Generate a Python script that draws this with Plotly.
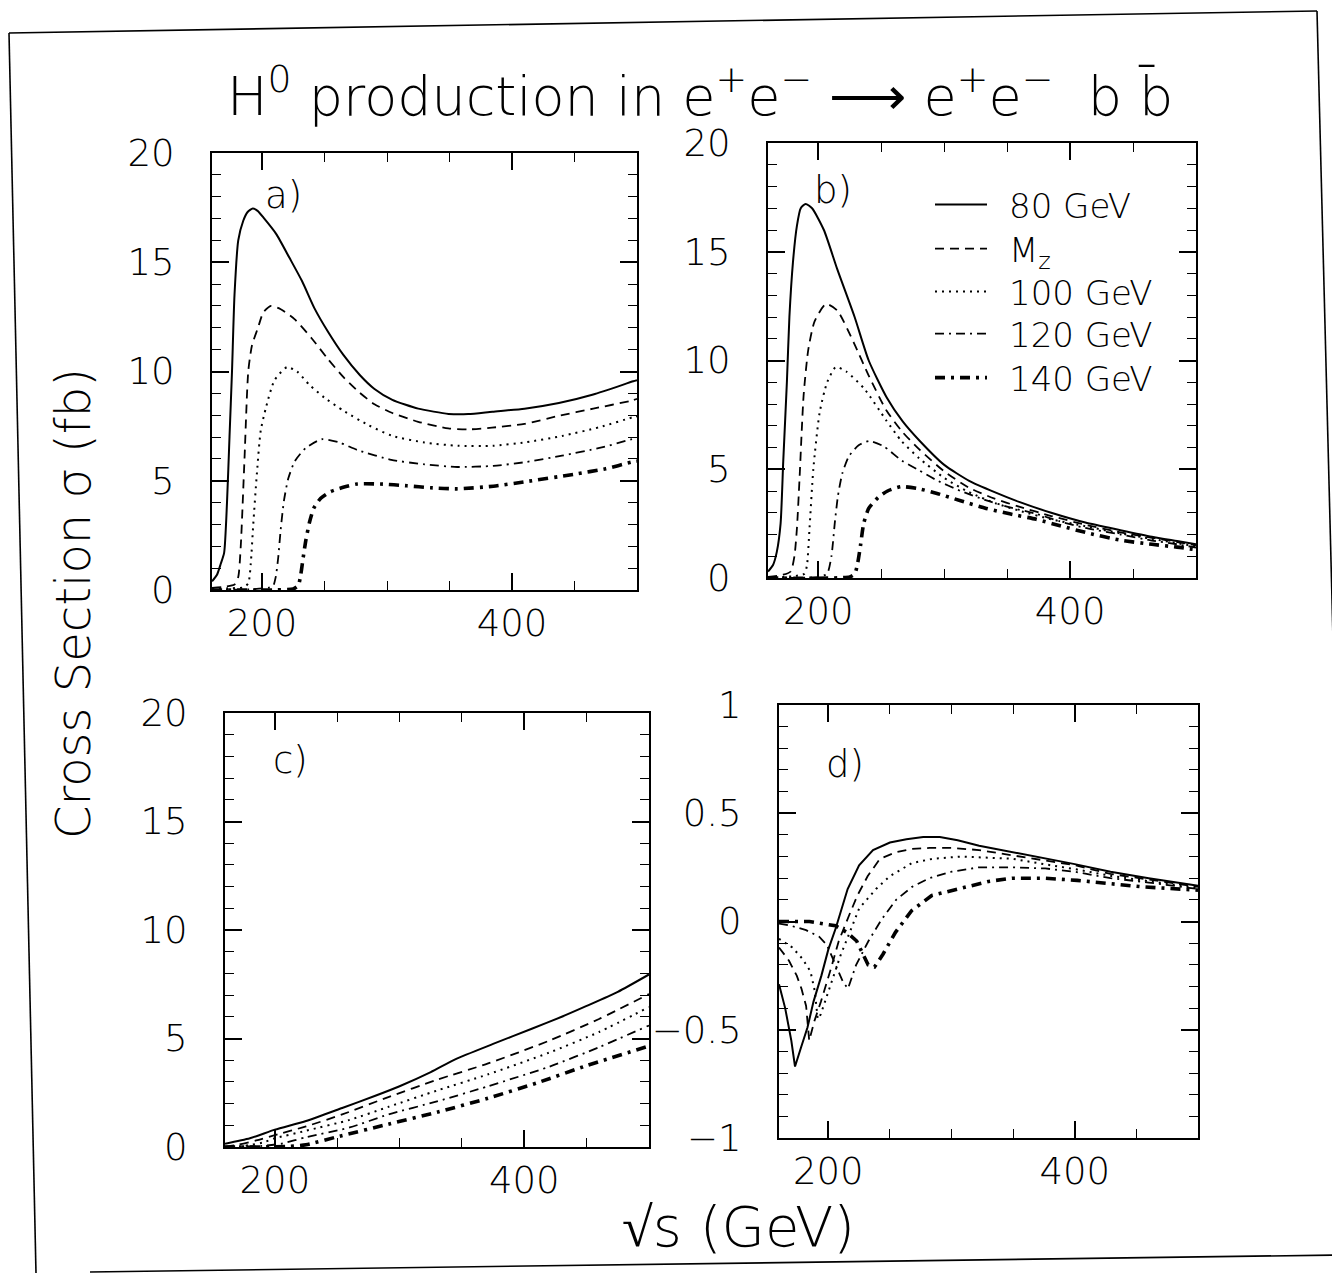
import plotly.graph_objects as go

W, H = 1340, 1273

SERIES = ["80 GeV", "M<sub>z</sub>", "100 GeV", "120 GeV", "140 GeV"]

# ---------------- panel a ----------------
A_X80 = [160, 164, 167, 169.7, 172, 174, 176, 178, 181, 185, 188.5, 192.6, 196.5, 201.2, 211.3, 222.1, 232.1, 242, 252.8, 265.1, 278.4, 290, 304.3, 325, 349.3, 365, 384.3, 410, 437.5, 465, 497, 500]
A_Y80 = [0.4, 0.7, 1.2, 1.7, 4.0, 7.0, 10.0, 13.5, 16.0, 16.9, 17.3, 17.46, 17.35, 17.04, 16.3, 15.19, 14.13, 12.89, 11.82, 10.76, 9.83, 9.2, 8.7, 8.3, 8.06, 8.05, 8.16, 8.3, 8.56, 8.95, 9.55, 9.6]
A_XMZ = [160, 170, 178, 181, 183, 186, 189, 192, 196.8, 201, 207.2, 215, 226, 240, 252.3, 265, 277.7, 290, 304.3, 325, 349, 365, 384, 410, 437.3, 465, 496.6, 500]
A_YMZ = [0.1, 0.15, 0.25, 0.6, 2.0, 6.0, 10.0, 11.2, 12.0, 12.7, 13.0, 12.85, 12.4, 11.5, 10.6, 9.75, 9.05, 8.5, 8.1, 7.7, 7.4, 7.35, 7.43, 7.6, 7.97, 8.3, 8.68, 8.75]
A_X100 = [160, 175, 185, 189, 191, 193, 196, 199, 203.4, 210, 220, 228, 237.8, 250, 265.3, 285, 303.9, 330, 356.7, 385, 410.8, 440, 470, 496.3, 500]
A_Y100 = [0.05, 0.08, 0.12, 0.3, 1.2, 3.0, 5.4, 7.3, 8.4, 9.6, 10.2, 10.0, 9.4, 8.8, 8.2, 7.55, 7.06, 6.75, 6.6, 6.6, 6.76, 7.05, 7.45, 7.9, 7.95]
A_X120 = [160, 190, 205, 209, 211, 213, 215, 217.6, 221, 226.3, 235, 247.8, 262, 276.6, 303.4, 330, 356.3, 385, 410.4, 440, 470, 495.9, 500]
A_Y120 = [0.0, 0.03, 0.1, 0.2, 0.6, 1.5, 2.8, 4.1, 5.1, 5.9, 6.5, 6.9, 6.75, 6.4, 5.96, 5.75, 5.63, 5.68, 5.85, 6.15, 6.5, 6.9, 6.95]
A_X140 = [160, 210, 225, 229, 231, 233, 235, 238, 241.5, 247, 254.8, 265, 276, 295, 316, 335, 356, 385, 410, 450, 475, 495.5, 500]
A_Y140 = [0.0, 0.0, 0.05, 0.2, 0.7, 1.5, 2.25, 3.1, 3.75, 4.2, 4.5, 4.7, 4.85, 4.85, 4.77, 4.68, 4.63, 4.75, 4.95, 5.3, 5.55, 5.85, 5.9]

# ---------------- panel b ----------------
B_X80 = [160, 164, 167, 170, 172.1, 175, 177, 179.8, 183, 186, 189.9, 195, 204.4, 215, 228.8, 240, 254.3, 267, 280.6, 300, 319.8, 340, 359.5, 385, 412.1, 440, 464.9, 485, 500]
B_Y80 = [0.3, 0.6, 1.2, 2.5, 5.35, 9.0, 12.0, 14.5, 16.2, 17.0, 17.2, 17.0, 16.0, 14.2, 12.0, 10.0, 8.3, 7.2, 6.3, 5.2, 4.47, 3.95, 3.5, 3.0, 2.55, 2.2, 1.9, 1.7, 1.55]
B_XMZ = [160, 172, 178, 181, 183, 185, 188.3, 192, 197, 206, 215, 228.3, 240, 254.1, 267, 280.4, 300, 319.7, 340, 359.4, 385, 412, 440, 465, 485, 500]
B_YMZ = [0.05, 0.15, 0.3, 1.0, 2.3, 4.5, 8.4, 10.5, 11.8, 12.6, 12.3, 10.8, 9.3, 7.7, 6.7, 5.9, 4.9, 4.15, 3.65, 3.28, 2.85, 2.45, 2.1, 1.85, 1.65, 1.5]
B_X100 = [160, 180, 189, 191, 193, 196, 201, 207, 213.9, 222, 236.5, 253.9, 266, 280.2, 300, 319.6, 340, 359.3, 385, 412, 440, 465, 485, 500]
B_Y100 = [0.02, 0.08, 0.2, 0.6, 2.3, 5.0, 7.6, 9.0, 9.7, 9.5, 8.7, 7.25, 6.3, 5.5, 4.6, 3.95, 3.45, 3.1, 2.7, 2.38, 2.05, 1.8, 1.6, 1.45]
B_X120 = [160, 200, 207, 210.4, 213, 215.5, 219, 224.3, 232, 240.6, 252, 266.2, 280, 293.8, 313, 333.5, 352, 373.2, 392, 412, 440, 465, 485, 500]
B_Y120 = [0.0, 0.05, 0.2, 1.0, 2.5, 3.75, 4.8, 5.6, 6.1, 6.3, 6.05, 5.4, 4.95, 4.5, 4.0, 3.57, 3.25, 2.95, 2.6, 2.3, 2.0, 1.72, 1.55, 1.4]
B_X140 = [160, 225, 229, 231.3, 233.5, 236, 240, 247.5, 255, 265.7, 280, 293.6, 313, 333.3, 352, 373.1, 392, 412, 438.8, 465, 485, 500]
B_Y140 = [0.0, 0.05, 0.2, 0.7, 1.5, 2.5, 3.2, 3.7, 4.0, 4.2, 4.1, 3.9, 3.55, 3.2, 2.95, 2.7, 2.4, 2.1, 1.75, 1.55, 1.42, 1.3]

# ---------------- panel c ----------------
C_X80 = [160, 180, 200, 225, 254, 280, 300, 325, 345, 375, 406, 430, 450, 475, 500]
C_Y80 = [0.15, 0.4, 0.8, 1.2, 1.8, 2.35, 2.8, 3.45, 4.05, 4.75, 5.45, 6.0, 6.5, 7.15, 7.95]
C_XMZ = [160, 170, 185, 200, 225, 254, 291, 330, 371, 420, 460, 500]
C_YMZ = [0.02, 0.1, 0.3, 0.55, 0.95, 1.5, 2.3, 3.1, 3.85, 4.9, 5.9, 7.05]
C_X100 = [160, 175, 190, 200, 225, 260, 291, 330, 371, 420, 460, 500]
C_Y100 = [0.0, 0.05, 0.2, 0.4, 0.75, 1.25, 1.85, 2.6, 3.35, 4.35, 5.3, 6.45]
C_X120 = [160, 190, 205, 225, 260, 291, 330, 371, 420, 460, 500]
C_Y120 = [0.0, 0.05, 0.15, 0.45, 0.9, 1.5, 2.1, 2.8, 3.7, 4.6, 5.6]
C_X140 = [160, 210, 225, 252, 291, 330, 371, 410, 450, 500]
C_Y140 = [0.0, 0.02, 0.1, 0.5, 1.05, 1.6, 2.25, 2.95, 3.75, 4.65]

# ---------------- panel d ----------------
D_X80 = [160, 165, 170, 173, 178, 183.1, 188, 194.4, 200, 206.1, 215.7, 225, 236.3, 250, 263.4, 277, 290.5, 305, 322.4, 350, 376.2, 400, 429, 460, 494.8, 500]
D_Y80 = [-0.29, -0.4, -0.55, -0.67, -0.58, -0.49, -0.37, -0.25, -0.13, -0.03, 0.15, 0.26, 0.33, 0.365, 0.38, 0.39, 0.39, 0.375, 0.35, 0.32, 0.29, 0.265, 0.23, 0.2, 0.17, 0.165]
D_XMZ = [160, 168, 174.4, 178.2, 182, 184.5, 188.7, 194, 201.5, 208.5, 217, 223.6, 232, 242, 255, 268, 282.3, 300, 322.3, 350, 376, 400, 429, 460, 500]
D_YMZ = [-0.12, -0.18, -0.25, -0.31, -0.39, -0.55, -0.46, -0.37, -0.23, -0.09, 0.03, 0.12, 0.21, 0.29, 0.32, 0.335, 0.34, 0.34, 0.33, 0.305, 0.28, 0.26, 0.22, 0.195, 0.16]
D_X100 = [160, 170.8, 178.7, 185.5, 189, 191.4, 193.8, 202.3, 209.7, 216.7, 225, 238.7, 250, 268, 285, 308, 330, 349, 375, 402, 430, 460, 500]
D_Y100 = [-0.08, -0.12, -0.17, -0.23, -0.32, -0.45, -0.43, -0.28, -0.16, -0.06, 0.06, 0.15, 0.21, 0.27, 0.29, 0.3, 0.295, 0.29, 0.265, 0.24, 0.21, 0.185, 0.155]
D_X120 = [160, 170, 182, 192.6, 199, 208, 212, 216, 222.6, 232.6, 243.3, 255, 268, 282, 300, 322, 350, 376, 400, 429, 460, 500]
D_Y120 = [-0.01, -0.02, -0.04, -0.07, -0.11, -0.23, -0.28, -0.31, -0.2, -0.09, 0.01, 0.1, 0.16, 0.2, 0.23, 0.25, 0.25, 0.245, 0.23, 0.2, 0.18, 0.15]
D_X140 = [160, 184.7, 206, 215, 223, 232.3, 237.5, 244.5, 254.5, 267.6, 284, 307.7, 330, 349, 375, 402, 430, 455, 500]
D_Y140 = [0.0, 0.0, -0.02, -0.05, -0.09, -0.2, -0.21, -0.15, -0.05, 0.05, 0.12, 0.155, 0.185, 0.2, 0.2, 0.19, 0.175, 0.16, 0.145]

X_RANGE = [160, 500]
X_TICKS = [200, 400]
Y_TICKS = [0, 5, 10, 15, 20]
D_TICKS = [-1, -0.5, 0, 0.5, 1]
D_TICKTEXT = ["\u22121", "\u22120.5", "0", "0.5", "1"]

FONT = "DejaVu Sans"
WEIGHT = 200

STYLES = [
    dict(width=2.0, dash="solid"),
    dict(width=1.8, dash="9px,6px"),
    dict(width=2.0, dash="2px,5px"),
    dict(width=1.8, dash="9px,5px,2px,5px"),
    dict(width=3.6, dash="10px,6px,3px,6px"),
]

LEGEND_IDS = ["legend", "legend2", "legend3", "legend4", "legend5"]
LEGEND_ROWS = [205, 249, 292, 334, 378]  # pixel rows of the legend entries (panel b)

panels = [
    ("x", "y", [(A_X80, A_Y80), (A_XMZ, A_YMZ), (A_X100, A_Y100), (A_X120, A_Y120), (A_X140, A_Y140)], "spline"),
    ("x2", "y2", [(B_X80, B_Y80), (B_XMZ, B_YMZ), (B_X100, B_Y100), (B_X120, B_Y120), (B_X140, B_Y140)], "spline"),
    ("x3", "y3", [(C_X80, C_Y80), (C_XMZ, C_YMZ), (C_X100, C_Y100), (C_X120, C_Y120), (C_X140, C_Y140)], "spline"),
    ("x4", "y4", [(D_X80, D_Y80), (D_XMZ, D_YMZ), (D_X100, D_Y100), (D_X120, D_Y120), (D_X140, D_Y140)], "linear"),
]

fig = go.Figure()
for pi, (xa, ya, curves, shape) in enumerate(panels):
    for si, (xs, ys) in enumerate(curves):
        line = dict(color="black", width=STYLES[si]["width"], dash=STYLES[si]["dash"], shape=shape)
        if shape == "spline":
            line["smoothing"] = 0.6
        fig.add_trace(go.Scatter(
            x=xs, y=ys, mode="lines", xaxis=xa, yaxis=ya, line=line,
            name="\u2002" + SERIES[si], showlegend=(pi == 1), legend=LEGEND_IDS[si],
        ))

# the page body adds an 8px offset; target pixel positions are compensated here
OFF = 8


def px_x(p):
    return (p - OFF) / W


def px_y(p):
    return 1 - (p - OFF) / H


def tfont(size):
    return dict(family=FONT, size=size, color="black", weight=WEIGHT)


def xaxis(x0, x1, anchor):
    return dict(
        domain=[px_x(x0), px_x(x1)], anchor=anchor, range=X_RANGE, automargin=False,
        showline=True, linecolor="black", linewidth=2, mirror="ticks",
        ticks="inside", ticklen=17, tickwidth=1.6, tickcolor="black",
        tickvals=X_TICKS, showgrid=False, zeroline=False,
        minor=dict(ticks="inside", ticklen=9, tickwidth=1.4, tickcolor="black", dtick=50, tick0=0, showgrid=False),
        tickfont=tfont(37), ticklabelstandoff=0,
    )


def yaxis(y0, y1, anchor, rng, tickvals, ticktext=None, minor_dtick=1):
    d = dict(
        domain=[px_y(y1), px_y(y0)], anchor=anchor, range=rng, automargin=False,
        showline=True, linecolor="black", linewidth=2, mirror="ticks",
        ticks="inside", ticklen=17, tickwidth=1.6, tickcolor="black",
        tickvals=tickvals, showgrid=False, zeroline=False,
        minor=dict(ticks="inside", ticklen=9, tickwidth=1.4, tickcolor="black", dtick=minor_dtick, tick0=0, showgrid=False),
        tickfont=tfont(37), ticklabelstandoff=28,
    )
    if ticktext is not None:
        d["ticktext"] = ticktext
    return d


layout = dict(
    width=W, height=H, margin=dict(l=0, r=0, t=0, b=0, autoexpand=False),
    paper_bgcolor="white", plot_bgcolor="white",
    font=dict(family=FONT, color="black"),
    xaxis=xaxis(212, 637, "y"), yaxis=yaxis(153, 590, "x", [0, 20], Y_TICKS),
    xaxis2=xaxis(768, 1196, "y2"), yaxis2=yaxis(143, 578, "x2", [0, 20], Y_TICKS),
    xaxis3=xaxis(225, 649, "y3"), yaxis3=yaxis(713, 1147, "x3", [0, 20], Y_TICKS),
    xaxis4=xaxis(779, 1198, "y4"), yaxis4=yaxis(705, 1138, "x4", [-1, 1], D_TICKS, D_TICKTEXT, 0.1),
    showlegend=True,
)
for lid, row in zip(LEGEND_IDS, LEGEND_ROWS):
    layout[lid] = dict(
        x=px_x(930), y=px_y(row), xanchor="left", yanchor="middle",
        bgcolor="rgba(0,0,0,0)", font=tfont(34), itemwidth=52, tracegroupgap=0,
    )
fig.update_layout(**layout)

ann = [
    dict(text="H<sup>0</sup> production in e<sup>+</sup>e<sup>\u2212</sup> \u27f6 e<sup>+</sup>e<sup>\u2212</sup>  b b\u0304",
         x=px_x(700), y=px_y(92), size=54),
    dict(text="Cross Section \u03c3 (fb)", x=px_x(73), y=px_y(604), textangle=-90, size=48),
    dict(text="\u221as (GeV)", x=px_x(738), y=px_y(1226), size=56),
    dict(text="a)", x=px_x(283), y=px_y(196), size=37),
    dict(text="b)", x=px_x(833), y=px_y(190), size=37),
    dict(text="c)", x=px_x(290), y=px_y(760), size=37),
    dict(text="d)", x=px_x(845), y=px_y(764), size=37),
]
for a in ann:
    size = a.pop("size")
    a.update(xref="paper", yref="paper", showarrow=False, xanchor="center", yanchor="middle", font=tfont(size))
fig.update_layout(annotations=ann)

frame = [((9, 33), (1317, 11)), ((9, 33), (36, 1273)), ((1317, 11), (1340, 914)), ((90, 1272), (1340, 1255))]
fig.update_layout(shapes=[
    dict(type="line", xref="paper", yref="paper", x0=px_x(a[0]), y0=px_y(a[1]), x1=px_x(b[0]), y1=px_y(b[1]),
         line=dict(color="black", width=1.6))
    for a, b in frame
])

fig.write_html("out.html")
